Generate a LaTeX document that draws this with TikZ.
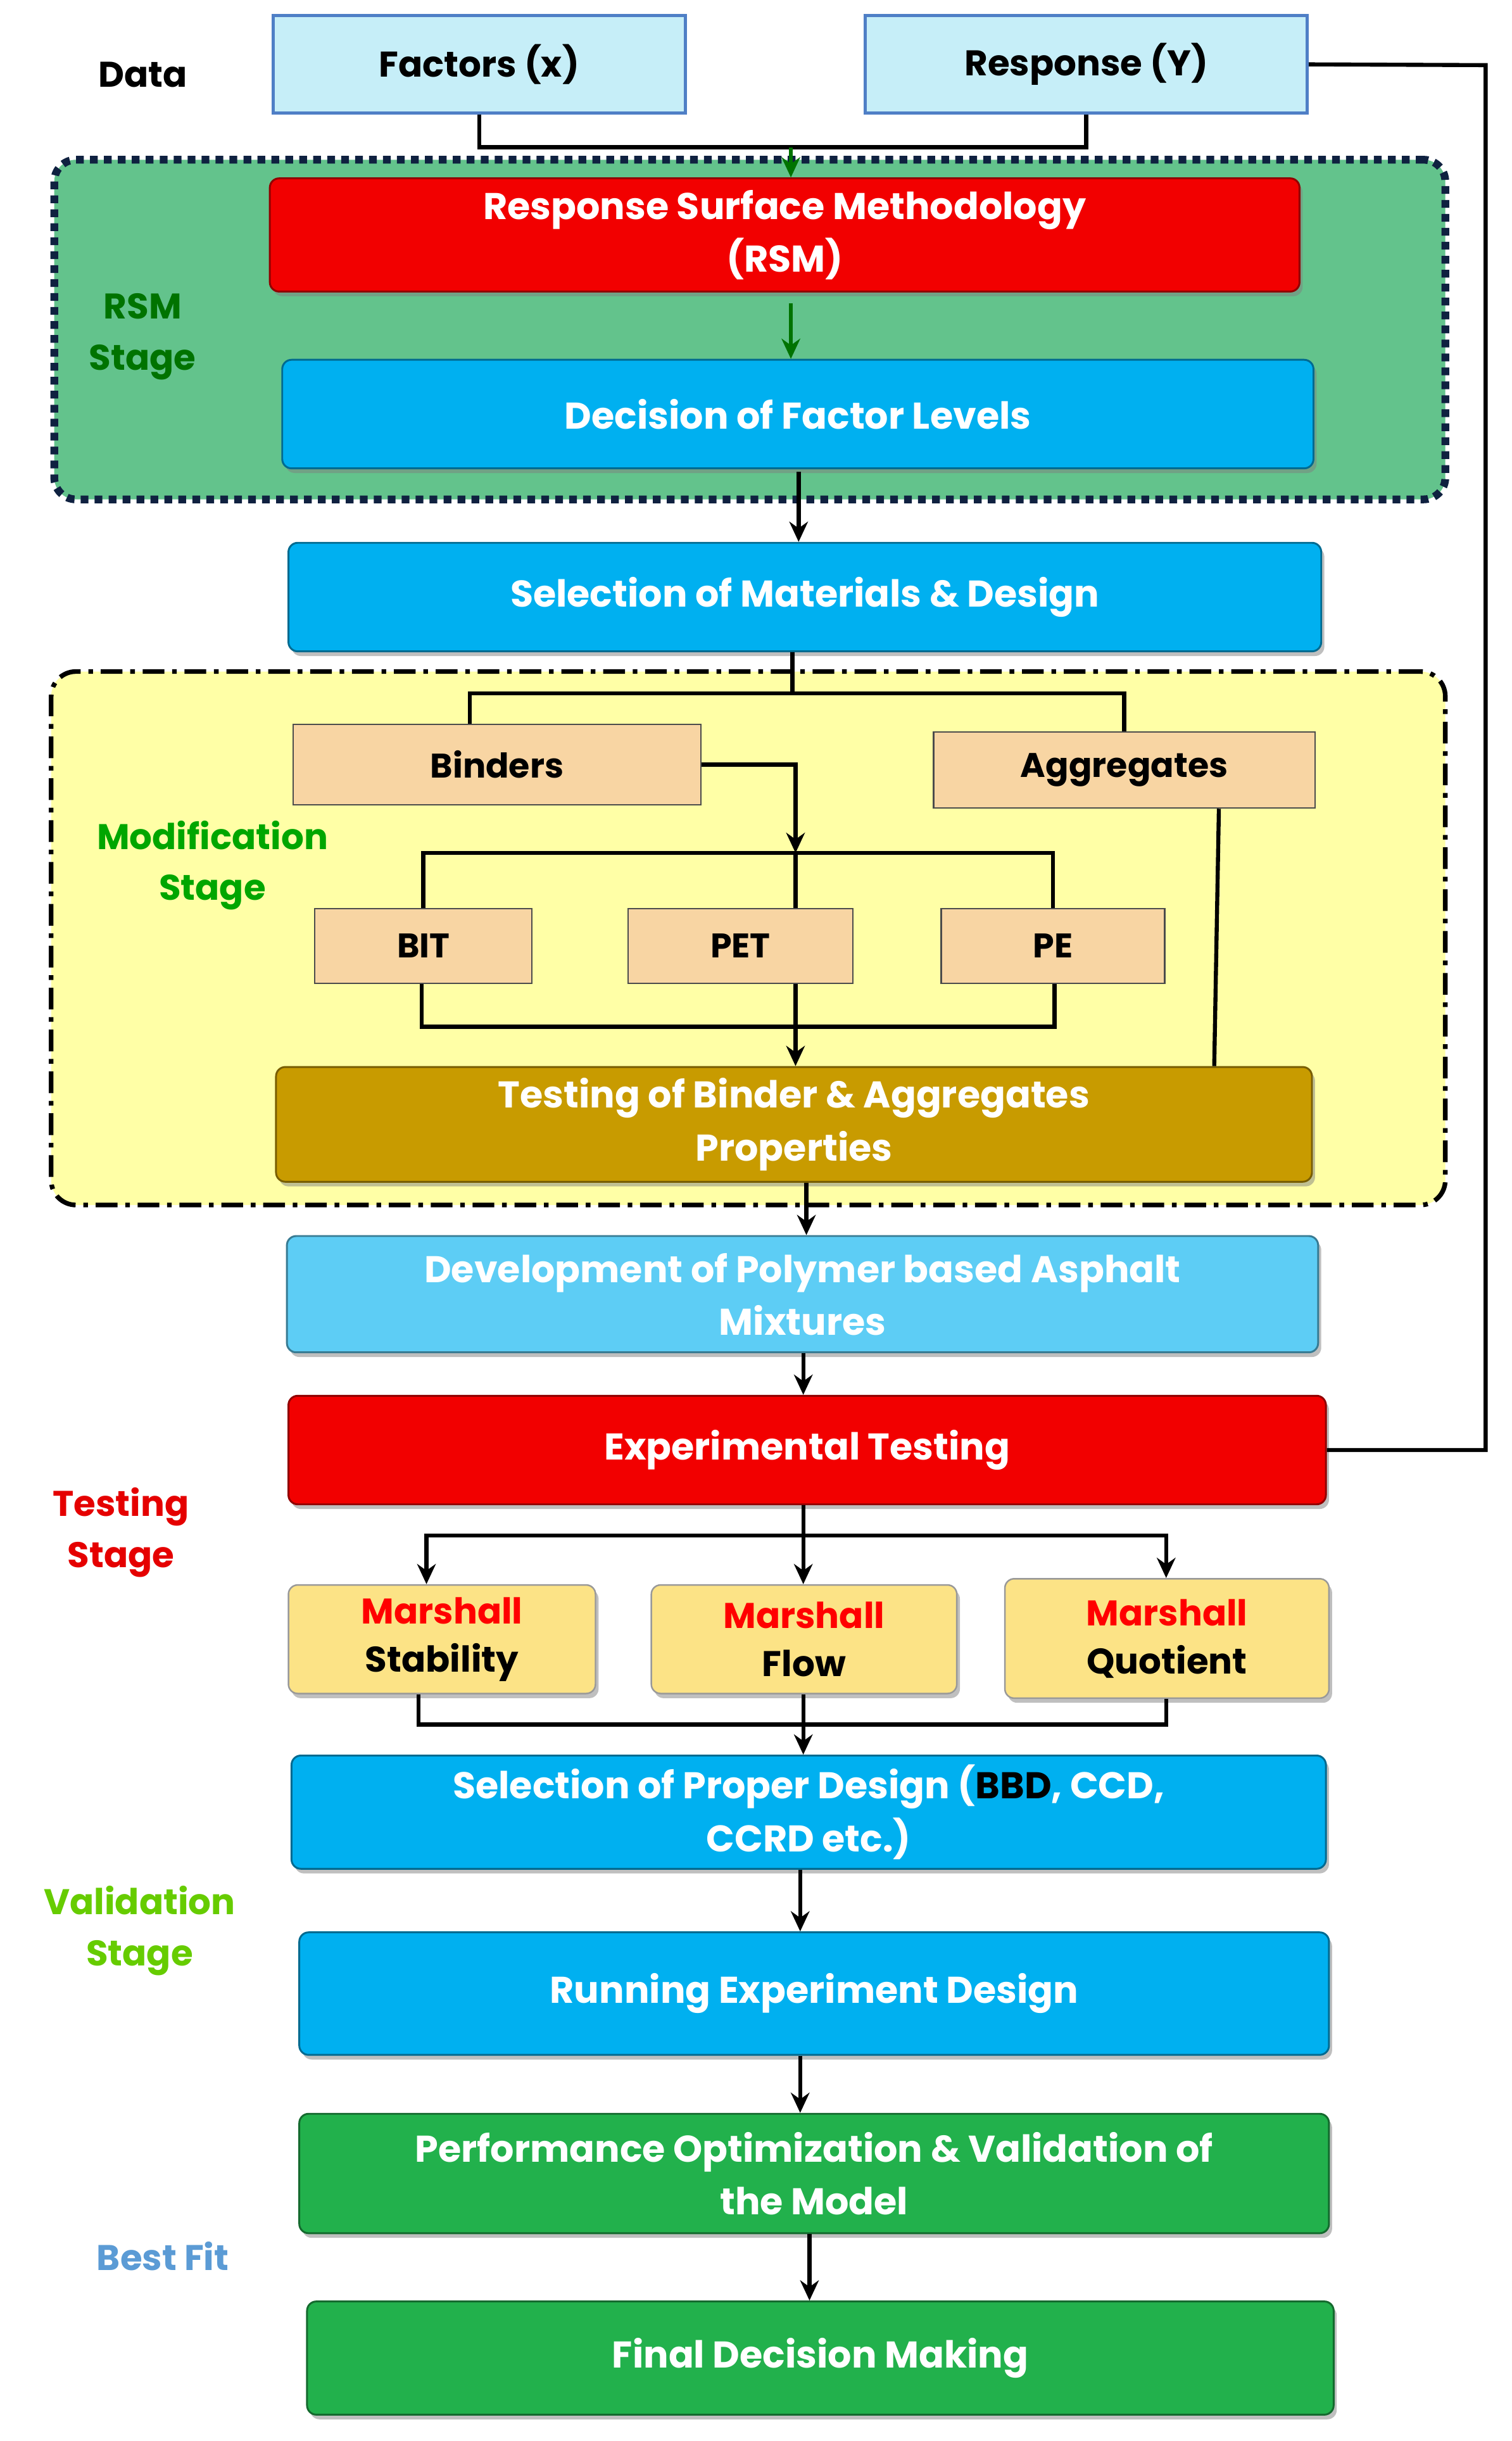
\documentclass[tikz,border=0pt]{standalone}
\usepackage{fontspec}
\setmainfont{Poppins}
\usetikzlibrary{shadows,arrows.meta}
\definecolor{cblue}{HTML}{00B0F0}
\definecolor{cltblue}{HTML}{5DCDF5}
\definecolor{cred}{HTML}{F20000}
\definecolor{cgold}{HTML}{C89B00}
\definecolor{cgreen}{HTML}{22B14C}
\definecolor{ctan}{HTML}{F8D5A3}
\definecolor{cmyel}{HTML}{FCE386}
\definecolor{cdata}{HTML}{C6EEF8}
\definecolor{cdataB}{HTML}{4F7FC6}
\definecolor{crsm}{HTML}{63C38C}
\definecolor{cmod}{HTML}{FFFFA6}
\definecolor{cnavy}{HTML}{0F2140}
\definecolor{cbest}{HTML}{5B9BD5}
\tikzset{
  x=1pt,y=-1pt,
  bx/.style={rounded corners=6pt,draw=#1!60!black,fill=#1,line width=1.2pt,
    drop shadow={shadow xshift=2pt,shadow yshift=-3pt,opacity=.5},
    text=white,font=\fontsize{24}{34}\selectfont\bfseries,align=center,inner sep=0pt},
  tan/.style={draw=black!70,fill=ctan,line width=1pt,font=\fontsize{22}{26}\selectfont\bfseries,inner sep=0pt},
  dat/.style={draw=cdataB,fill=cdata,line width=2pt,font=\fontsize{23}{28}\selectfont\bfseries,inner sep=0pt},
  mar/.style={rounded corners=6pt,draw=black!40,fill=cmyel,line width=1pt,
    drop shadow={shadow xshift=2pt,shadow yshift=-3pt,opacity=.5},
    font=\fontsize{23}{31}\selectfont\bfseries,align=center,inner sep=0pt},
  lab/.style={font=\fontsize{23}{33}\selectfont\bfseries,align=center},
  ln/.style={line width=2.6pt,black},
  ar/.style={ln,-{Stealth[length=13pt,width=12pt]}},
}
\newcommand{\bxat}[7]{\node[#6,minimum width={(#4)-(#2)},minimum height={(#5)-(#3)}] (#1) at ({((#2)+(#4))/2},{((#3)+(#5))/2}) {#7};}
\begin{document}
\begin{tikzpicture}
\useasboundingbox (0,0) rectangle (975,1574);
\fill[white] (0,0) rectangle (975,1574);
% stage backgrounds
\node[draw=cnavy,fill=crsm,line width=5pt,dash pattern=on 5pt off 4pt,rounded corners=14pt,minimum width=897pt,minimum height=219pt] (rsmstage) at (483.5,212.5) {};
\node[draw=black,fill=cmod,line width=3pt,dash pattern=on 14pt off 5pt on 3pt off 5pt,rounded corners=16pt,minimum width=899pt,minimum height=344pt] (modstage) at (482.5,605) {};
% labels
\node[lab] (ldata) at (92,48) {Data};
\node[lab,text=green!45!black] (lrsm) at (92,217) {RSM\\Stage};
\node[lab,text=green!65!black] (lmod) at (137,558) {Modification\\Stage};
\node[lab,text=red!90!black] (ltest) at (78,988) {Testing\\Stage};
\node[lab,text=green!50!yellow!80!black] (lval) at (90,1245) {Validation\\Stage};
\node[lab,text=cbest] (lbest) at (105,1455) {Best Fit};
% data
\bxat{fac}{176}{10}{442}{73}{dat}{Factors (x)}
\bxat{resp}{558}{10}{843}{73}{dat}{Response (Y)}
% main boxes
\bxat{rsm}{174}{115}{838}{188}{bx=cred}{Response Surface Methodology\\(RSM)}
\bxat{dec}{182}{232}{847}{302}{bx=cblue}{Decision of Factor Levels}
\bxat{sel}{186}{350}{852}{420}{bx=cblue}{Selection of Materials \& Design}
\bxat{bind}{189}{467}{452}{519}{tan}{Binders}
\bxat{agg}{602}{472}{848}{521}{tan}{Aggregates}
\bxat{bit}{203}{586}{343}{634}{tan}{BIT}
\bxat{pet}{405}{586}{550}{634}{tan}{PET}
\bxat{pe}{607}{586}{751}{634}{tan}{PE}
\bxat{test}{178}{688}{846}{762}{bx=cgold}{Testing of Binder \& Aggregates\\Properties}
\bxat{dev}{185}{797}{850}{872}{bx=cltblue}{Development of Polymer based Asphalt\\Mixtures}
\bxat{exp}{186}{900}{855}{970}{bx=cred}{Experimental Testing}
\bxat{ms}{186}{1022}{384}{1092}{mar}{\textcolor{red}{Marshall}\\Stability}
\bxat{mf}{420}{1022}{617}{1092}{mar}{\textcolor{red}{Marshall}\\Flow}
\bxat{mq}{648}{1018}{857}{1095}{mar}{\textcolor{red}{Marshall}\\Quotient}
\bxat{prop}{188}{1132}{855}{1205}{bx=cblue}{Selection of Proper Design (\textcolor{black}{BBD}, CCD,\\CCRD etc.)}
\bxat{run}{193}{1246}{857}{1325}{bx=cblue}{Running Experiment Design}
\bxat{perf}{193}{1363}{857}{1440}{bx=cgreen}{Performance Optimization \& Validation of\\the Model}
\bxat{fin}{198}{1484}{860}{1557}{bx=cgreen}{Final Decision Making}
% connectors
\coordinate (j1) at (510,95);
\draw[ln] (fac.south) |- (j1) -| (resp.south);
\draw[line width=2.6pt,green!45!black,-{Stealth[length=13pt,width=12pt]}] (j1) -- (rsm.north -| j1);
\draw[line width=2.6pt,green!45!black,-{Stealth[length=13pt,width=12pt]}] (rsm.south -| j1) ++(0,7) -- (dec.north -| j1);
\draw[ar] (515,304) -- (sel.north -| 515,0);
\coordinate (j2) at (511,447);
\draw[ln] (sel.south -| j2) -- (j2);
\draw[ln] (bind.north -| 303,0) |- (j2) -| (agg.north -| 725,0);
\coordinate (j3) at (513,550);
\draw[ar] (bind.east) -| (j3);
\draw[ln] (bit.north) |- (j3) -| (pe.north);
\draw[ln] (j3) -- (pet.north -| j3);
\coordinate (j4) at (513,662);
\draw[ln] (bit.south -| 272,0) |- (j4) -| (pe.south -| 680,0);
\draw[ar] (pet.south -| j4) -- (test.north -| j4);
\draw[ln] (agg.south -| 786,0) -- (test.north -| 783,0);
\draw[ar] (test.south -| 520,0) -- (dev.north -| 520,0);
\draw[ar] (dev.south -| 518,0) -- (exp.north -| 518,0);
\coordinate (j5) at (518,990);
\draw[ar] (exp.south -| j5) -- (mf.north -| j5);
\draw[ar] (j5) -| (ms.north -| 275,0);
\draw[ar] (j5) -| (mq.north -| 752,0);
\coordinate (j6) at (518,1112);
\draw[ln] (ms.south -| 270,0) |- (j6) -| (mq.south -| 752,0);
\draw[ar] (mf.south -| j6) -- (prop.north -| j6);
\draw[ar] (prop.south -| 516,0) -- (run.north -| 516,0);
\draw[ar] (run.south -| 516,0) -- (perf.north -| 516,0);
\draw[ar] (perf.south -| 522,0) -- (fin.north -| 522,0);
\coordinate (r1) at (958,42);
\draw[ln] (resp.east) -- (r1) |- (exp.east);
\end{tikzpicture}
\end{document}
